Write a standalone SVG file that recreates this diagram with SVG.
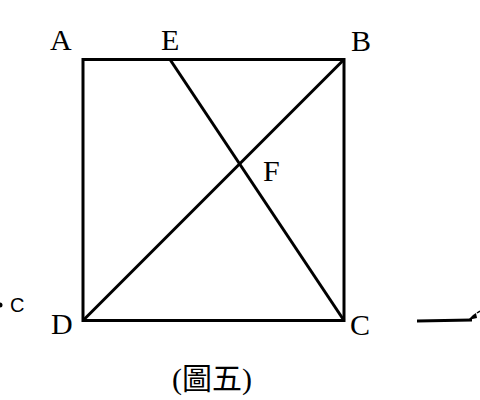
<svg xmlns="http://www.w3.org/2000/svg" width="480" height="400" viewBox="0 0 480 400">
<style>
.lbl{font-family:"Liberation Serif","Noto Sans CJK TC",serif;font-size:30px;fill:#000}
.ln{stroke:#000;stroke-width:3;fill:none}
</style>
<rect width="480" height="400" fill="#fff"/>
<g id="square"><rect class="ln" x="83" y="59.5" width="261" height="261"/></g>
<g id="connectors">
<line class="ln" x1="83" y1="320.5" x2="344" y2="59.5"/>
<line class="ln" x1="170" y1="59.5" x2="344" y2="320.5"/>
<line class="ln" x1="417" y1="321" x2="472" y2="320"/>
<path d="M468,320 L473,315 L476,313 L477,318 Z" fill="#000"/>
<path d="M477,313 L480,311" stroke="#000" stroke-width="1.5"/>
</g>
<g id="A"><text class="lbl" x="50" y="50">A</text></g>
<g id="E"><text class="lbl" x="161" y="50">E</text></g>
<g id="B"><text class="lbl" x="351" y="51">B</text></g>
<g id="F"><text class="lbl" x="263" y="181">F</text></g>
<g id="D"><text class="lbl" x="51" y="334">D</text></g>
<g id="C"><text class="lbl" x="350" y="335">C</text></g>
<g id="left"><circle cx="0" cy="305" r="2.5" fill="#000"/><text x="10" y="312" style="font-family:'Liberation Sans',sans-serif;font-size:20px">C</text></g>
<g id="caption"><text class="lbl" x="212" y="389" text-anchor="middle">(圖五)</text></g>
</svg>
